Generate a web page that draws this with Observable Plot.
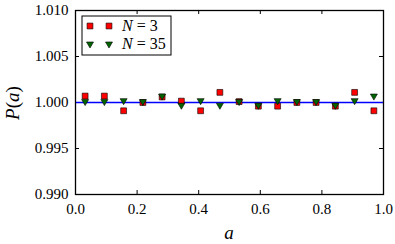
<!DOCTYPE html>
<html><head><meta charset="utf-8">
<script src="https://cdn.jsdelivr.net/npm/d3@7"></script>
<script src="https://cdn.jsdelivr.net/npm/@observablehq/plot@0.6"></script>
<style>
html,body{margin:0;padding:0;background:#fff;}
</style>
</head><body>
<div id="chart"></div>
<script>
const aValues = [0.03125,0.09375,0.15625,0.21875,0.28125,0.34375,0.40625,0.46875,0.53125,0.59375,0.65625,0.71875,0.78125,0.84375,0.90625,0.96875];
const pN3 =  [1.0007,1.0007,0.9991,1.0000,1.0006,1.00015,0.9991,1.0011,1.0001,0.9996,0.9996,1.0000,1.0000,0.9996,1.0011,0.9991];
const pN35 = [1.0001,1.0001,1.0002,1.0001,1.0007,0.9997,1.0002,0.9997,1.0001,0.9997,1.0002,1.0001,1.0001,0.9997,1.0002,1.0007];
const xTicks = [0.0,0.2,0.4,0.6,0.8,1.0];
const yTicks = [0.990,0.995,1.000,1.005,1.010];
const seriesNames = ["N = 3","N = 35"];

const d3data = aValues.map((a,i)=>({a, p: pN3[i]}));
const d35data = aValues.map((a,i)=>({a, p: pN35[i]}));

const W = 395, H = 244, mL = 75, mR = 12, mT = 10, mB = 50;
const fh = H - mT - mB, fw = W - mL - mR, tk = 4;
const FONT = "Liberation Serif";

const chart = Plot.plot({
  width: W, height: H,
  marginLeft: mL, marginRight: mR, marginTop: mT, marginBottom: mB,
  style: {fontFamily: FONT, fontSize: "15px", color: "black", background: "white"},
  x: {domain: [0, 1], ticks: xTicks, tickFormat: d3.format(".1f")},
  y: {domain: [0.990, 1.010], ticks: yTicks, tickFormat: d3.format(".3f")},
  marks: [
    Plot.axisX(xTicks, {tickSize: 0, tickPadding: 9, label: null, fontSize: 15, fontFamily: FONT}),
    Plot.axisY(yTicks, {tickSize: 0, tickPadding: 7, label: null, fontSize: 15, fontFamily: FONT, tickFormat: d3.format(".3f")}),
    Plot.tickX(xTicks.slice(1,-1), {x: d=>d, insetTop: fh - tk, stroke: "black", strokeWidth: 1}),
    Plot.tickX(xTicks.slice(1,-1), {x: d=>d, insetBottom: fh - tk, stroke: "black", strokeWidth: 1}),
    Plot.tickY(yTicks.slice(1,-1), {y: d=>d, insetRight: fw - tk, stroke: "black", strokeWidth: 1}),
    Plot.tickY(yTicks.slice(1,-1), {y: d=>d, insetLeft: fw - tk, stroke: "black", strokeWidth: 1}),
    Plot.ruleY([1.0], {stroke: "blue", strokeWidth: 1.3}),
    Plot.dot(d3data, {x: "a", y: "p", symbol: "square", r: 3.3, fill: "#ff0000", stroke: "black", strokeWidth: 0.6}),
    Plot.dot(d35data, {x: "a", y: "p", symbol: "triangle", r: 2.6, rotate: 180, fill: "#006400", stroke: "black", strokeWidth: 0.6}),
    Plot.frame({stroke: "black", strokeWidth: 1.3})
  ]
});
document.getElementById("chart").appendChild(chart);

const svg = d3.select(chart);
svg.attr("font-family", FONT);
// y label P(a)
const yl = svg.append("text")
  .attr("transform", `translate(19,${mT + fh/2 + 1}) rotate(-90)`)
  .attr("text-anchor", "middle")
  .attr("font-size", 19)
  .attr("fill", "black");
yl.append("tspan").attr("font-style","italic").text("P");
yl.append("tspan").text("(");
yl.append("tspan").attr("font-style","italic").text("a");
yl.append("tspan").text(")");
// x label a
svg.append("text")
  .attr("x", mL + fw/2).attr("y", 239)
  .attr("text-anchor","middle").attr("font-size",19)
  .attr("font-style","italic").attr("fill","black").text("a");

// legend
const lg = svg.append("g");
lg.append("rect").attr("x",82).attr("y",16).attr("width",89).attr("height",39)
  .attr("fill","white").attr("stroke","black").attr("stroke-width",1);
const rows = [
  {name: seriesNames[0], sym: d3.symbolSquare, r: 3.3, fill: "#ff0000", rot: 0},
  {name: seriesNames[1], sym: d3.symbolTriangle, r: 2.6, fill: "#006400", rot: 180}
];
rows.forEach((row,i)=>{
  const y = 26 + i*18;
  [90,109].forEach(x=>{
    lg.append("path").attr("d", d3.symbol(row.sym, Math.PI*row.r*row.r)())
      .attr("transform",`translate(${x},${y}) rotate(${row.rot})`)
      .attr("fill",row.fill).attr("stroke","black").attr("stroke-width",0.6);
  });
  const parts = row.name.split(" = ");
  const t = lg.append("text").attr("x",122).attr("y",y+5).attr("font-size",16)
    .attr("text-anchor","start").attr("fill","black");
  t.append("tspan").attr("font-style","italic").text(parts[0]);
  t.append("tspan").text(" = " + parts[1]);
});
svg.selectAll("text").attr("font-family", FONT).style("font-family", FONT);
</script>
</body></html>
